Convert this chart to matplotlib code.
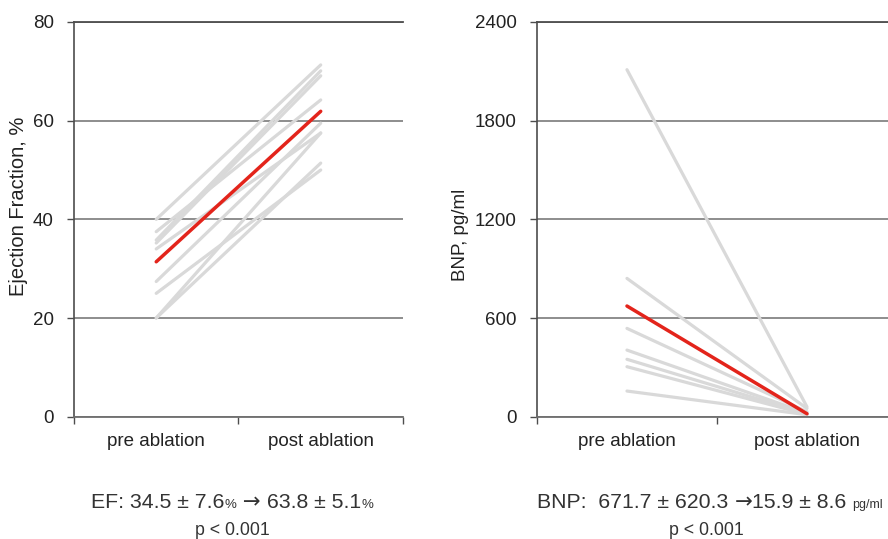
import matplotlib
matplotlib.use("Agg")
import matplotlib.pyplot as plt

plt.rcParams['font.family'] = ['Liberation Sans', 'DejaVu Sans']

categories = ["pre ablation", "post ablation"]

# ejection fraction, individual patients (pre, post)
ef_pre = [40, 37.5, 35.8, 35.2, 34, 27.4, 25, 20, 20]
ef_post = [71.3, 64.2, 70.1, 69.1, 57.5, 59.5, 50, 57.5, 51.4]
ef_mean = [31.4, 61.9]
ef_ticks = [0, 20, 40, 60, 80]

# BNP, individual patients (pre, post)
bnp_pre = [2110, 841, 537, 405, 349, 304, 156]
bnp_post = [60, 50, 30, 22, 18, 14, 12]
bnp_mean = [673, 18]
bnp_ticks = [0, 600, 1200, 1800, 2400]

GRAY = "#d9d9d9"
RED = "#e3241b"
GRID = "#858585"
DARK = "#4d4d4d"
TXT = "#222222"


def setup_axes(ax, ticks, ylabel, label_size):
    ax.set_xlim(0, 2)
    ax.set_ylim(ticks[0], ticks[-1])
    ax.set_yticks(ticks)
    ax.set_yticklabels([str(t) for t in ticks], fontsize=13.5, color=TXT)
    ax.set_xticks([0, 1, 2])
    ax.set_xticklabels([])
    ax.set_xticks([0.5, 1.5], minor=True)
    ax.set_xticklabels(categories, minor=True, fontsize=13.5, color=TXT)
    ax.tick_params(axis='x', which='minor', length=0, pad=12)
    ax.tick_params(axis='x', which='major', length=5, color=DARK, width=1)
    ax.tick_params(axis='y', length=5, color=DARK, width=1, pad=9.5)
    ax.grid(axis='y', color=GRID, linewidth=1.3)
    ax.set_axisbelow(True)
    ax.spines["right"].set_visible(False)
    ax.spines["top"].set_color(DARK)
    ax.spines["top"].set_linewidth(1.3)
    ax.spines["left"].set_color(DARK)
    ax.spines["left"].set_linewidth(1.2)
    ax.spines["bottom"].set_color("#6e6e6e")
    ax.spines["bottom"].set_linewidth(1.3)
    ax.set_ylabel(ylabel, fontsize=label_size, color=TXT)


def draw_pairs(ax, pre, post, mean):
    for a, b in zip(pre, post):
        ax.plot([0.5, 1.5], [a, b], color=GRAY, linewidth=2.3,
                solid_capstyle='round', zorder=2)
    ax.plot([0.5, 1.5], mean, color=RED, linewidth=2.5,
            solid_capstyle='round', zorder=3)


def mixed_text(fig, x, y, parts):
    """Write pieces of text one after the other, centred as a whole at x."""
    items = []
    for s, size, fam in parts:
        t = fig.text(0, y, s, fontsize=size, color="#333333",
                     ha='left', va='baseline', family=fam)
        items.append(t)
    fig.canvas.draw()
    r = fig.canvas.get_renderer()
    widths = [it.get_window_extent(r).width for it in items]
    total = sum(widths)
    fw = fig.bbox.width
    cur = x * fw - total / 2
    for it, w in zip(items, widths):
        it.set_position((cur / fw, y))
        cur += w


LS = ['Liberation Sans', 'DejaVu Sans']
DV = ['DejaVu Sans']

fig = plt.figure(figsize=(8.88, 5.39), dpi=100)

ax1 = fig.add_axes([0.0833, 0.2269, 0.3705, 0.7323])
setup_axes(ax1, ef_ticks, "Ejection Fraction, %", 14.5)
draw_pairs(ax1, ef_pre, ef_post, ef_mean)
ax1.yaxis.set_label_coords(-0.14, 0.534)

ax2 = fig.add_axes([0.6047, 0.2269, 0.4054, 0.7323])
setup_axes(ax2, bnp_ticks, "BNP, pg/ml", 13.5)
draw_pairs(ax2, bnp_pre, bnp_post, bnp_mean)
ax2.yaxis.set_label_coords(-0.189, 0.46)

mixed_text(fig, 232 / 888, 1 - 508 / 539,
           [("EF: 34.5 \u00b1 7.6", 15.3, LS), ("%", 9.5, LS),
            (" \u2192", 15.3, DV), (" 63.8 \u00b1 5.1", 15.3, LS), ("%", 9.5, LS)])
fig.text(232 / 888, 1 - 535 / 539, "p < 0.001", fontsize=12.8, color="#333333",
         ha='center', va='baseline')

mixed_text(fig, 710 / 888, 1 - 508 / 539,
           [("BNP:  671.7 \u00b1 620.3 ", 15.3, LS), ("\u2192", 15.3, DV),
            ("15.9 \u00b1 8.6 ", 15.3, LS), ("pg/ml", 9, LS)])
fig.text(706 / 888, 1 - 535 / 539, "p < 0.001", fontsize=12.8, color="#333333",
         ha='center', va='baseline')

fig.savefig("out.png", dpi=100)
